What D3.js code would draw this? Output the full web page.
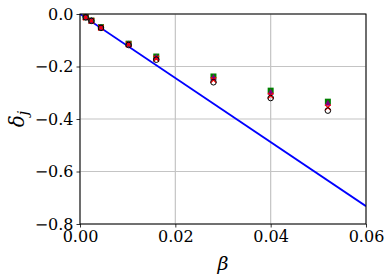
<!DOCTYPE html>
<html><head><meta charset="utf-8">
<script src="https://cdn.jsdelivr.net/npm/d3@7"></script>
<style>body{margin:0;background:#fff}svg{display:block}svg text{font-family:"DejaVu Serif","Liberation Serif",serif}</style>
</head><body>
<script>
const beta = [0.0012, 0.0024, 0.0044, 0.0102, 0.016, 0.028, 0.04, 0.052];
const sqVals = [-0.012, -0.025, -0.050, -0.113, -0.162, -0.238, -0.292, -0.334];
const triVals = [-0.012, -0.025, -0.051, -0.114, -0.165, -0.242, -0.298, -0.340];
const crossVals = [-0.013, -0.026, -0.052, -0.116, -0.170, -0.251, -0.311, -0.356];
const circVals = [-0.013, -0.026, -0.053, -0.118, -0.174, -0.260, -0.320, -0.368];
const lineX = [0, 0.06];
const lineY = [0, -0.732];
const xTicks = [0, 0.02, 0.04, 0.06];
const yTicks = [0, -0.2, -0.4, -0.6, -0.8];
const xTickLabels = ["0.00", "0.02", "0.04", "0.06"];
const yTickLabels = ["0.0", "\u22120.2", "\u22120.4", "\u22120.6", "\u22120.8"];

const W = 390, H = 279;
const m = {l: 80, r: 24, t: 14, b: 55};
const svg = d3.select("body").append("svg").attr("width", W).attr("height", H);
const x = d3.scaleLinear().domain([0, 0.06]).range([m.l, W - m.r]);
const y = d3.scaleLinear().domain([-0.8, 0]).range([H - m.b, m.t]);
const font = "DejaVu Serif";

// grid
const g = svg.append("g");
g.selectAll(".gx").data(xTicks).enter().append("line")
  .attr("x1", d => x(d)).attr("x2", d => x(d)).attr("y1", y(0)).attr("y2", y(-0.8))
  .attr("stroke", "#c4c4c4").attr("stroke-width", 1.2);
g.selectAll(".gy").data(yTicks).enter().append("line")
  .attr("y1", d => y(d)).attr("y2", d => y(d)).attr("x1", x(0)).attr("x2", x(0.06))
  .attr("stroke", "#c4c4c4").attr("stroke-width", 1.2);

svg.append("clipPath").attr("id", "clip").append("rect")
  .attr("x", m.l).attr("y", m.t).attr("width", W - m.l - m.r).attr("height", H - m.t - m.b);

const pts = lineX.map((d, i) => [d, lineY[i]]);
svg.append("path").attr("clip-path", "url(#clip)")
  .attr("d", d3.line().x(d => x(d[0])).y(d => y(d[1]))(pts))
  .attr("fill", "none").attr("stroke", "#0000ff").attr("stroke-width", 1.8);

const mk = svg.append("g");
const sqs = 6;
mk.selectAll(".sq").data(beta).enter().append("rect")
  .attr("x", (d, i) => x(d) - sqs / 2).attr("y", (d, i) => y(sqVals[i]) - sqs / 2)
  .attr("width", sqs).attr("height", sqs).attr("fill", "#008000");
mk.selectAll(".tri").data(beta).enter().append("path")
  .attr("transform", (d, i) => `translate(${x(d)},${y(triVals[i])})`)
  .attr("d", "M0,-3.5L3.2,2.6L-3.2,2.6Z").attr("fill", "#800080");
mk.selectAll(".cr").data(beta).enter().append("path")
  .attr("transform", (d, i) => `translate(${x(d)},${y(crossVals[i])})`)
  .attr("d", "M-2.8,-2.8L2.8,2.8M-2.8,2.8L2.8,-2.8").attr("stroke", "#ff0000").attr("stroke-width", 1.3).attr("fill", "none");
mk.selectAll(".ci").data(beta).enter().append("circle")
  .attr("cx", d => x(d)).attr("cy", (d, i) => y(circVals[i])).attr("r", 2.8)
  .attr("fill", "none").attr("stroke", "#000").attr("stroke-width", 1);

svg.append("rect").attr("x", m.l).attr("y", m.t).attr("width", W - m.l - m.r).attr("height", H - m.t - m.b)
  .attr("fill", "none").attr("stroke", "#000").attr("stroke-width", 1);

const xa = svg.append("g").attr("transform", `translate(0,${H - m.b})`)
  .call(d3.axisBottom(x).tickValues(xTicks).tickSize(3.5).tickPadding(3).tickFormat((d, i) => xTickLabels[i]));
const ya = svg.append("g").attr("transform", `translate(${m.l},0)`)
  .call(d3.axisLeft(y).tickValues(yTicks).tickSize(3.5).tickPadding(3).tickFormat((d, i) => yTickLabels[i]));
[xa, ya].forEach(a => {
  a.attr("font-family", null);
  a.select(".domain").remove();
  a.selectAll("text").style("font-family", font).attr("font-size", 16).attr("fill", "#000");
  a.selectAll("line").attr("stroke", "#000").attr("stroke-width", 0.8);
});

svg.append("text").attr("x", (x(0) + x(0.06)) / 2).attr("y", 270)
  .attr("text-anchor", "middle").style("font-family", font).attr("font-style", "italic").attr("font-size", 19).text("\u03b2");
svg.append("text").attr("transform", `translate(24,${(y(0) + y(-0.8)) / 2}) rotate(-90)`)
  .attr("text-anchor", "middle").style("font-family", font).attr("font-style", "italic").attr("font-size", 20)
  .text("\u03b4").append("tspan").attr("font-size", 14).attr("dy", 4).text("j");
</script>
</body></html>
